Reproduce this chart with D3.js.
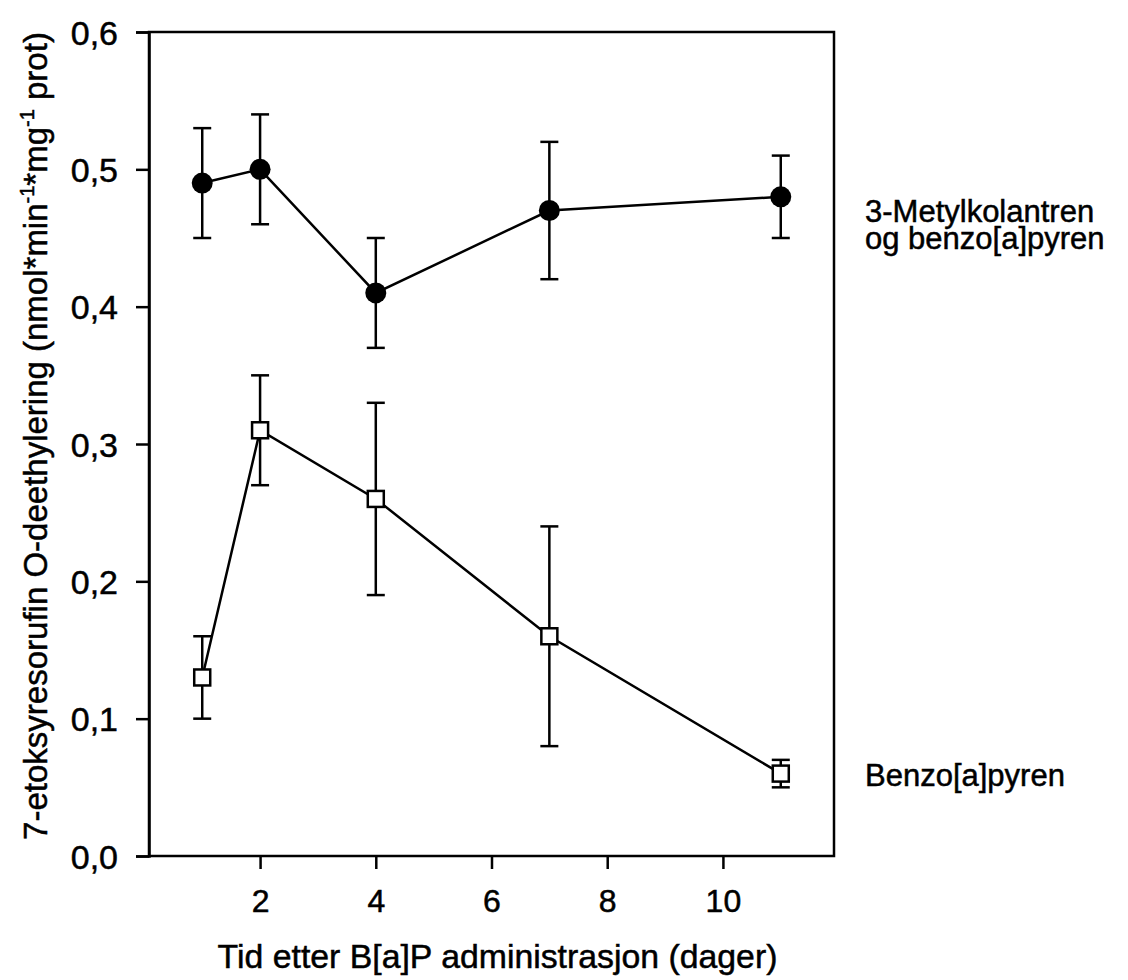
<!DOCTYPE html>
<html>
<head>
<meta charset="utf-8">
<script src="https://cdn.jsdelivr.net/npm/d3@7"></script>
<style>
  body { margin: 0; background: #fff; }
  text { font-family: "Liberation Sans", Arial, sans-serif; fill: #000; stroke: #000; stroke-width: 0.5px; }
</style>
</head>
<body>
<svg id="chart" width="1128" height="980"></svg>
<script>
// Days after B[a]P administration
const days = [1, 2, 4, 7, 11];

// 3-Metylkolantren og benzo[a]pyren: mean and error
const mcBapMean = [0.49, 0.50, 0.41, 0.47, 0.48];
const mcBapErr  = [0.04, 0.04, 0.04, 0.05, 0.03];

// Benzo[a]pyren: mean and error
const bapMean = [0.13, 0.31, 0.26, 0.16, 0.06];
const bapErr  = [0.03, 0.04, 0.07, 0.08, 0.01];

// Axis ticks and extents
const xTicks = [2, 4, 6, 8, 10];
const yTicks = [0, 0.1, 0.2, 0.3, 0.4, 0.5, 0.6];
const xDomain = [0.08, 11.92];
const yDomain = [0, 0.6];

const seriesLabels = [["3-Metylkolantren", "og benzo[a]pyren"], ["Benzo[a]pyren"]];

const svg = d3.select("#chart");
const plot = { left: 149, right: 834, top: 32, bottom: 856 };

const x = d3.scaleLinear().domain(xDomain).range([plot.left, plot.right]);
const y = d3.scaleLinear().domain(yDomain).range([plot.bottom, plot.top]);

const fmt = d => d3.format(".1f")(d).replace(".", ",");
const FONT = "Liberation Sans, Arial, sans-serif";

// Frame
svg.append("rect")
  .attr("x", plot.left).attr("y", plot.top)
  .attr("width", plot.right - plot.left).attr("height", plot.bottom - plot.top)
  .attr("fill", "none").attr("stroke", "#000").attr("stroke-width", 2.5);

// Y axis
const yAxis = svg.append("g")
  .attr("transform", `translate(${plot.left},0)`)
  .call(d3.axisLeft(y).tickValues(yTicks).tickFormat(fmt).tickSize(13).tickPadding(18));
yAxis.select(".domain").attr("stroke-width", 2.5);
yAxis.selectAll(".tick line").attr("stroke-width", 2.5);
yAxis.selectAll(".tick text")
  .attr("font-size", 34).attr("font-family", FONT)
  .attr("dy", "0.36em");

// X axis
const xAxis = svg.append("g")
  .attr("transform", `translate(0,${plot.bottom})`)
  .call(d3.axisBottom(x).tickValues(xTicks).tickFormat(d3.format("d")).tickSize(13).tickPadding(20));
xAxis.select(".domain").remove();
xAxis.selectAll(".tick line").attr("stroke-width", 2.5);
xAxis.selectAll(".tick text")
  .attr("font-size", 32).attr("font-family", FONT);

// X axis title
svg.append("text")
  .attr("x", (plot.left + plot.right) / 2 + 6)
  .attr("y", 968)
  .attr("text-anchor", "middle")
  .attr("font-size", 33.8)
  .text("Tid etter B[a]P administrasjon (dager)");

// Y axis title with superscripts
const yTitle = svg.append("text")
  .attr("transform", `translate(47,${(plot.top + plot.bottom) / 2 - 8}) rotate(-90)`)
  .attr("text-anchor", "middle")
  .attr("font-size", 33);
yTitle.append("tspan").text("7-etoksyresorufin O-deethylering (nmol*min");
yTitle.append("tspan").attr("font-size", 20).attr("dy", -13).text("-1");
yTitle.append("tspan").attr("dy", 13).text("*mg");
yTitle.append("tspan").attr("font-size", 20).attr("dy", -13).text("-1");
yTitle.append("tspan").attr("dy", 13).text(" prot)");

function drawSeries(means, errs, marker) {
  const data = days.map((d, i) => ({ day: d, v: means[i], e: errs[i] }));
  const g = svg.append("g");
  const cap = 9;

  // Error bars
  const eb = g.selectAll(".eb").data(data).enter().append("g");
  eb.append("line")
    .attr("x1", d => x(d.day)).attr("x2", d => x(d.day))
    .attr("y1", d => y(d.v - d.e)).attr("y2", d => y(d.v + d.e))
    .attr("stroke", "#000").attr("stroke-width", 2.5);
  [-1, 1].forEach(s => {
    eb.append("line")
      .attr("x1", d => x(d.day) - cap).attr("x2", d => x(d.day) + cap)
      .attr("y1", d => y(d.v + s * d.e)).attr("y2", d => y(d.v + s * d.e))
      .attr("stroke", "#000").attr("stroke-width", 2.5);
  });

  // Connecting line
  g.append("path")
    .datum(data)
    .attr("fill", "none").attr("stroke", "#000").attr("stroke-width", 2.5)
    .attr("d", d3.line().x(d => x(d.day)).y(d => y(d.v)));

  // Markers
  if (marker === "circle") {
    g.selectAll(".m").data(data).enter().append("circle")
      .attr("cx", d => x(d.day)).attr("cy", d => y(d.v)).attr("r", 10.5)
      .attr("fill", "#000");
  } else {
    const s = 16;
    g.selectAll(".m").data(data).enter().append("rect")
      .attr("x", d => x(d.day) - s / 2).attr("y", d => y(d.v) - s / 2)
      .attr("width", s).attr("height", s)
      .attr("fill", "#fff").attr("stroke", "#000").attr("stroke-width", 2.5);
  }
  return data;
}

const mcData = drawSeries(mcBapMean, mcBapErr, "circle");
const bapData = drawSeries(bapMean, bapErr, "square");

// Series labels at the right of the frame
const lab1 = svg.append("text")
  .attr("x", 865)
  .attr("y", y(mcData[mcData.length - 1].v) + 25)
  .attr("font-size", 31);
seriesLabels[0].forEach((t, i) => {
  lab1.append("tspan").attr("x", 865).attr("dy", i === 0 ? 0 : 27).text(t);
});

svg.append("text")
  .attr("x", 865)
  .attr("y", y(bapData[bapData.length - 1].v) + 12)
  .attr("font-size", 31)
  .text(seriesLabels[1][0]);
</script>
</body>
</html>
